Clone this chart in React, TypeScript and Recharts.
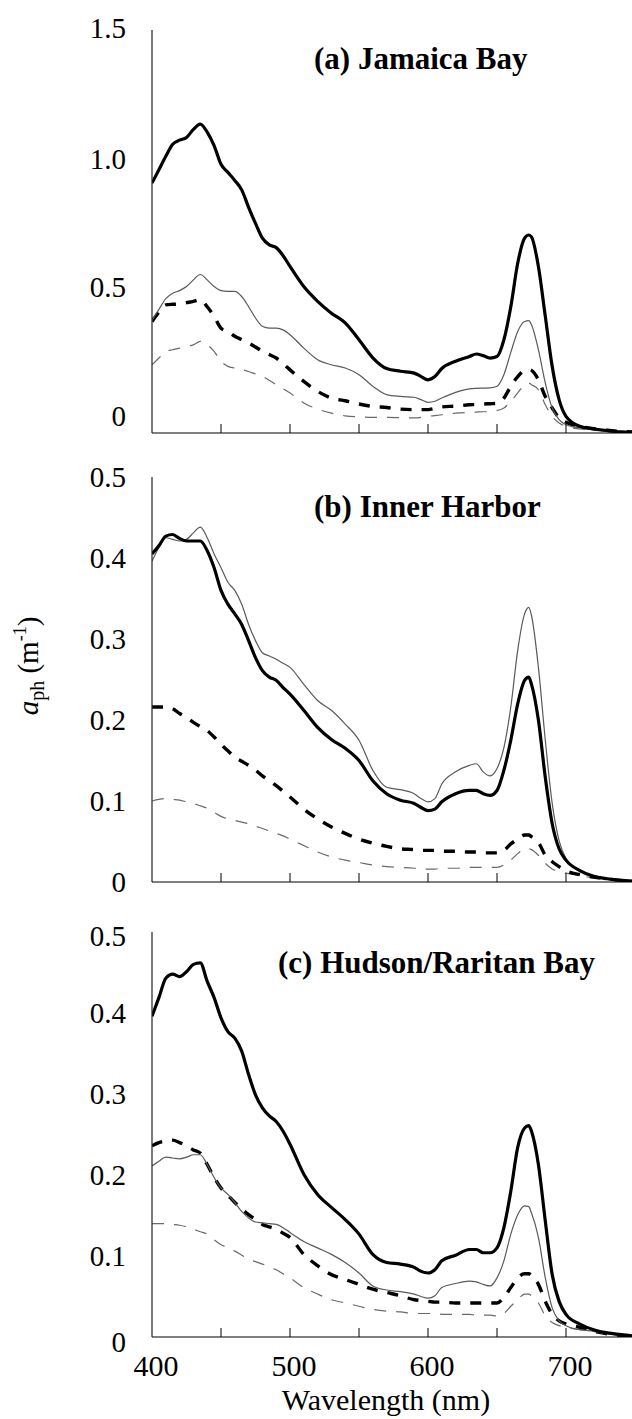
import React from 'react';
import { Line, LineChart, XAxis, YAxis } from 'recharts';

// wavelength grid shared by every spectrum (nm)
const wavelengths = [
  400, 405, 410, 415, 420, 425, 430, 435, 440, 445, 450, 455, 460, 465, 470, 475, 480, 485, 490, 495,
  500, 510, 520, 530, 540, 550, 560, 570, 580, 590, 595, 600, 605, 610, 620, 630, 635, 640, 645, 650,
  655, 660, 665, 670, 673, 675, 680, 685, 690, 695, 700, 710, 720, 730, 740, 750,
];

// (a) Jamaica Bay
const jamaicaBold = [
  0.93, 0.98, 1.03, 1.075, 1.09, 1.1, 1.13, 1.15, 1.12, 1.07, 1.0, 0.97, 0.94, 0.905, 0.84, 0.78, 0.725, 0.7, 0.69, 0.66,
  0.62, 0.545, 0.49, 0.446, 0.41, 0.347, 0.28, 0.24, 0.23, 0.223, 0.21, 0.198, 0.21, 0.24, 0.267, 0.285, 0.294, 0.288, 0.279, 0.285,
  0.347, 0.47, 0.632, 0.725, 0.737, 0.73, 0.62, 0.434, 0.248, 0.124, 0.062, 0.025, 0.015, 0.009, 0.004, 0.002,
];
const jamaicaThin = [
  0.42, 0.46, 0.5, 0.52, 0.53, 0.545, 0.57, 0.59, 0.57, 0.545, 0.53, 0.527, 0.527, 0.508, 0.47, 0.428, 0.397, 0.39, 0.39, 0.384,
  0.366, 0.316, 0.273, 0.254, 0.242, 0.217, 0.174, 0.143, 0.136, 0.133, 0.124, 0.114, 0.118, 0.13, 0.151, 0.164, 0.166, 0.167, 0.168, 0.174,
  0.217, 0.3, 0.378, 0.415, 0.418, 0.403, 0.31, 0.186, 0.093, 0.05, 0.031, 0.019, 0.012, 0.007, 0.004, 0.002,
];
const jamaicaBoldDash = [
  0.415, 0.45, 0.477, 0.479, 0.48, 0.485, 0.49, 0.496, 0.47, 0.434, 0.39, 0.378, 0.36, 0.348, 0.335, 0.32, 0.304, 0.292, 0.279, 0.258,
  0.235, 0.192, 0.155, 0.13, 0.12, 0.108, 0.099, 0.095, 0.089, 0.087, 0.087, 0.087, 0.092, 0.097, 0.1, 0.105, 0.106, 0.108, 0.109, 0.11,
  0.13, 0.174, 0.21, 0.233, 0.236, 0.233, 0.198, 0.136, 0.093, 0.056, 0.04, 0.025, 0.016, 0.01, 0.006, 0.003,
];
const jamaicaThinDash = [
  0.254, 0.279, 0.304, 0.31, 0.316, 0.322, 0.328, 0.341, 0.328, 0.304, 0.267, 0.248, 0.242, 0.236, 0.229, 0.22, 0.211, 0.196, 0.18, 0.165,
  0.149, 0.112, 0.089, 0.074, 0.064, 0.06, 0.058, 0.058, 0.057, 0.056, 0.058, 0.062, 0.065, 0.068, 0.074, 0.077, 0.078, 0.079, 0.081, 0.084,
  0.093, 0.118, 0.149, 0.18, 0.186, 0.18, 0.161, 0.105, 0.062, 0.037, 0.025, 0.015, 0.01, 0.006, 0.004, 0.002,
];

// (b) Inner Harbor
const harborBold = [
  0.405, 0.415, 0.427, 0.429, 0.424, 0.421, 0.421, 0.421, 0.409, 0.388, 0.36, 0.343, 0.331, 0.318, 0.298, 0.277, 0.261, 0.253, 0.249, 0.24,
  0.232, 0.212, 0.191, 0.176, 0.165, 0.15, 0.125, 0.109, 0.101, 0.097, 0.092, 0.088, 0.09, 0.099, 0.109, 0.113, 0.113, 0.109, 0.107, 0.113,
  0.138, 0.175, 0.22, 0.249, 0.253, 0.244, 0.2, 0.129, 0.072, 0.041, 0.027, 0.014, 0.007, 0.004, 0.002, 0.001,
];
const harborThin = [
  0.396, 0.413, 0.425, 0.423, 0.421, 0.423, 0.431, 0.438, 0.425, 0.405, 0.388, 0.37, 0.36, 0.343, 0.318, 0.298, 0.283, 0.279, 0.275, 0.27,
  0.265, 0.244, 0.224, 0.212, 0.195, 0.175, 0.138, 0.117, 0.114, 0.109, 0.103, 0.099, 0.103, 0.121, 0.136, 0.144, 0.146, 0.136, 0.131, 0.14,
  0.166, 0.216, 0.286, 0.331, 0.339, 0.329, 0.265, 0.175, 0.097, 0.051, 0.029, 0.014, 0.008, 0.004, 0.002, 0.001,
];
const harborBoldDash = [
  0.216, 0.216, 0.216, 0.214, 0.208, 0.203, 0.197, 0.192, 0.187, 0.179, 0.17, 0.162, 0.154, 0.149, 0.144, 0.138, 0.131, 0.125, 0.119, 0.112,
  0.105, 0.09, 0.078, 0.068, 0.06, 0.053, 0.048, 0.044, 0.041, 0.04, 0.039, 0.039, 0.039, 0.038, 0.038, 0.037, 0.037, 0.036, 0.036, 0.036,
  0.039, 0.047, 0.053, 0.058, 0.058, 0.056, 0.049, 0.033, 0.025, 0.019, 0.014, 0.009, 0.006, 0.004, 0.002, 0.001,
];
const harborThinDash = [
  0.1, 0.102, 0.103, 0.102, 0.101, 0.099, 0.097, 0.094, 0.091, 0.086, 0.081, 0.078, 0.076, 0.074, 0.072, 0.069, 0.066, 0.063, 0.06, 0.057,
  0.053, 0.045, 0.037, 0.031, 0.027, 0.024, 0.021, 0.019, 0.018, 0.017, 0.016, 0.016, 0.016, 0.017, 0.017, 0.018, 0.018, 0.018, 0.018, 0.018,
  0.021, 0.027, 0.035, 0.041, 0.041, 0.04, 0.033, 0.023, 0.016, 0.013, 0.011, 0.008, 0.005, 0.003, 0.002, 0.001,
];

// (c) Hudson/Raritan Bay
const hudsonBold = [
  0.396, 0.419, 0.443, 0.448, 0.445, 0.451, 0.46, 0.462, 0.439, 0.419, 0.394, 0.377, 0.369, 0.353, 0.324, 0.299, 0.283, 0.273, 0.266, 0.254,
  0.238, 0.201, 0.176, 0.16, 0.145, 0.127, 0.102, 0.092, 0.09, 0.086, 0.081, 0.079, 0.083, 0.094, 0.101, 0.108, 0.108, 0.104, 0.104, 0.11,
  0.135, 0.18, 0.234, 0.258, 0.261, 0.254, 0.213, 0.143, 0.077, 0.044, 0.028, 0.016, 0.009, 0.005, 0.003, 0.001,
];
const hudsonThin = [
  0.211, 0.217, 0.222, 0.221, 0.22, 0.222, 0.225, 0.225, 0.213, 0.197, 0.184, 0.176, 0.166, 0.155, 0.147, 0.142, 0.141, 0.14, 0.139, 0.135,
  0.129, 0.118, 0.11, 0.102, 0.092, 0.079, 0.063, 0.058, 0.056, 0.053, 0.05, 0.048, 0.051, 0.061, 0.066, 0.069, 0.068, 0.065, 0.063, 0.073,
  0.094, 0.127, 0.151, 0.162, 0.161, 0.153, 0.123, 0.073, 0.036, 0.02, 0.014, 0.009, 0.007, 0.004, 0.002, 0.001,
];
const hudsonBoldDash = [
  0.236, 0.24, 0.242, 0.243, 0.24, 0.236, 0.231, 0.227, 0.213, 0.197, 0.184, 0.175, 0.166, 0.158, 0.151, 0.145, 0.139, 0.136, 0.133, 0.128,
  0.123, 0.102, 0.088, 0.077, 0.071, 0.065, 0.059, 0.055, 0.051, 0.046, 0.045, 0.044, 0.043, 0.043, 0.042, 0.042, 0.042, 0.042, 0.042, 0.042,
  0.049, 0.061, 0.073, 0.078, 0.078, 0.076, 0.065, 0.044, 0.028, 0.02, 0.016, 0.012, 0.007, 0.004, 0.002, 0.001,
];
const hudsonThinDash = [
  0.14, 0.14, 0.14, 0.139, 0.138, 0.136, 0.133, 0.13, 0.127, 0.12, 0.114, 0.11, 0.106, 0.101, 0.096, 0.093, 0.09, 0.087, 0.083, 0.078,
  0.073, 0.061, 0.053, 0.046, 0.042, 0.038, 0.034, 0.032, 0.031, 0.029, 0.029, 0.029, 0.029, 0.028, 0.028, 0.028, 0.027, 0.027, 0.027, 0.026,
  0.029, 0.038, 0.046, 0.053, 0.053, 0.051, 0.042, 0.026, 0.018, 0.014, 0.012, 0.009, 0.007, 0.004, 0.002, 0.001,
];

const xTicks = [400, 450, 500, 550, 600, 650, 700, 750];
const xLabelTicks = [400, 500, 600, 700];
const yTicksA = [0, 0.5, 1.0, 1.5];
const yTicksBC = [0, 0.1, 0.2, 0.3, 0.4, 0.5];

const FONT = "'Liberation Serif', 'Times New Roman', Times, 'DejaVu Serif', serif";
const TICK_LEN = 9;

const buildRows = (bold: number[], thin: number[], boldDash: number[], thinDash: number[]) =>
  wavelengths.map((wl, i) => ({ wl, bold: bold[i], thin: thin[i], boldDash: boldDash[i], thinDash: thinDash[i] }));

const fmtY = (v: number) => (v === 0 ? '0' : v.toFixed(1));

type PanelProps = {
  top: number;
  height: number;
  plotTop: number;
  plotBottom: number;
  yMax: number;
  yTicks: number[];
  labelShift: number[];
  showXLabels: boolean;
  rows: ReturnType<typeof buildRows>;
};

const Panel = ({ top, height, plotTop, plotBottom, yMax, yTicks, labelShift, showXLabels, rows }: PanelProps) => {
  const marginTop = plotTop - top;
  const bottomSpace = top + height - plotBottom;

  const TopTick = ({ x, y, payload }: any) =>
    payload.value === 400 || payload.value === 750 ? <g /> : (
      <line x1={x} x2={x} y1={y} y2={y + TICK_LEN} stroke="#000" strokeWidth={1} />
    );

  const BottomTick = ({ x, y, payload }: any) => (
    <g>
      {payload.value !== 400 && payload.value !== 750 && (
        <line x1={x} x2={x} y1={y} y2={y - TICK_LEN} stroke="#000" strokeWidth={1} />
      )}
      {showXLabels && xLabelTicks.includes(payload.value) && (
        <text x={x + 4} y={y + 39} textAnchor="middle" fontSize={30} style={{ fontFamily: FONT }} fill="#000">
          {payload.value}
        </text>
      )}
    </g>
  );

  const LeftTick = ({ x, y, payload, index }: any) => (
    <text
      x={x - 26}
      y={y + (labelShift[index] || 0)}
      dy="0.34em"
      textAnchor="end"
      fontSize={29}
      style={{ fontFamily: FONT }}
      fill="#000"
    >
      {fmtY(payload.value)}
    </text>
  );

  const RightTick = ({ x, y, payload }: any) =>
    payload.value === 0 || payload.value === yMax ? <g /> : (
      <line x1={x} x2={x - TICK_LEN} y1={y} y2={y} stroke="#000" strokeWidth={1} />
    );

  return (
    <div style={{ position: 'absolute', left: 0, top }}>
      <LineChart width={640} height={height} data={rows} margin={{ top: marginTop, right: 5, bottom: 0, left: 0 }}>
        <XAxis
          xAxisId="bottom"
          dataKey="wl"
          type="number"
          domain={[400, 750]}
          ticks={xTicks}
          interval={0}
          height={bottomSpace}
          tickSize={0}
          tickMargin={0}
          tickLine={false}
          tick={<BottomTick />}
          axisLine={{ stroke: '#000', strokeWidth: 1.2 }}
          allowDataOverflow
        />
        <XAxis
          xAxisId="top"
          orientation="top"
          dataKey="wl"
          type="number"
          domain={[400, 750]}
          ticks={xTicks}
          interval={0}
          height={0}
          tickSize={0}
          tickMargin={0}
          tickLine={false}
          tick={<TopTick />}
          axisLine={{ stroke: '#000', strokeWidth: 1.2 }}
        />
        <YAxis
          yAxisId="left"
          type="number"
          domain={[0, yMax]}
          ticks={yTicks}
          interval={0}
          width={152}
          tickSize={0}
          tickMargin={0}
          tickLine={false}
          tick={<LeftTick />}
          axisLine={{ stroke: '#222', strokeWidth: 1.2 }}
          allowDataOverflow
        />
        <YAxis
          yAxisId="right"
          orientation="right"
          type="number"
          domain={[0, yMax]}
          ticks={yTicks}
          interval={0}
          width={0}
          tickSize={0}
          tickMargin={0}
          tickLine={false}
          tick={<RightTick />}
          axisLine={{ stroke: '#000', strokeWidth: 1.2 }}
        />
        <Line
          xAxisId="bottom"
          yAxisId="left"
          type="monotone"
          dataKey="thinDash"
          stroke="#6a6a6a"
          strokeWidth={1.2}
          strokeDasharray="12 10"
          dot={false}
          isAnimationActive={false}
        />
        <Line
          xAxisId="bottom"
          yAxisId="left"
          type="monotone"
          dataKey="boldDash"
          stroke="#000"
          strokeWidth={3.4}
          strokeDasharray="11 10"
          dot={false}
          isAnimationActive={false}
        />
        <Line
          xAxisId="bottom"
          yAxisId="left"
          type="monotone"
          dataKey="thin"
          stroke="#5a5a5a"
          strokeWidth={1.2}
          dot={false}
          isAnimationActive={false}
        />
        <Line
          xAxisId="bottom"
          yAxisId="left"
          type="monotone"
          dataKey="bold"
          stroke="#000"
          strokeWidth={3.2}
          dot={false}
          isAnimationActive={false}
        />
      </LineChart>
    </div>
  );
};

const App = () => {
  const rowsA = buildRows(jamaicaBold, jamaicaThin, jamaicaBoldDash, jamaicaThinDash);
  const rowsB = buildRows(harborBold, harborThin, harborBoldDash, harborThinDash);
  const rowsC = buildRows(hudsonBold, hudsonThin, hudsonBoldDash, hudsonThinDash);

  return (
    <div
      style={{
        position: 'absolute',
        left: 0,
        top: 0,
        width: 632,
        height: 1419,
        overflow: 'hidden',
        background: '#fff',
        fontFamily: FONT,
      }}
    >
      <Panel
        top={0}
        height={455}
        plotTop={30}
        plotBottom={433}
        yMax={1.5}
        yTicks={yTicksA}
        labelShift={[-17, -12, -5, -2]}
        showXLabels={false}
        rows={rowsA}
      />
      <Panel
        top={447}
        height={457}
        plotTop={477}
        plotBottom={882}
        yMax={0.5}
        yTicks={yTicksBC}
        labelShift={[0, 0, 0, 0, 0, 0]}
        showXLabels={false}
        rows={rowsB}
      />
      <Panel
        top={902}
        height={517}
        plotTop={932}
        plotBottom={1337}
        yMax={0.5}
        yTicks={yTicksBC}
        labelShift={[5, 0, 0, 0, 0, 4]}
        showXLabels
        rows={rowsC}
      />
      <svg width={632} height={1419} style={{ position: 'absolute', left: 0, top: 0, pointerEvents: 'none', fontFamily: FONT }}>
        <g fontWeight="bold" fontSize={31} fill="#000">
          <text x={314} y={69}>(a) Jamaica Bay</text>
          <text x={314} y={517}>(b) Inner Harbor</text>
          <text x={278} y={973}>(c) Hudson/Raritan Bay</text>
        </g>
        <text x={386} y={1410} textAnchor="middle" fontSize={30} fill="#000">
          Wavelength (nm)
        </text>
        <text x={0} y={0} transform="translate(38, 666) rotate(-90)" textAnchor="middle" fontSize={29} fill="#000">
          <tspan fontStyle="italic">a</tspan>
          <tspan fontSize={20} dy={6}>ph</tspan>
          <tspan dy={-6}> (m</tspan>
          <tspan fontSize={18} dy={-12}>-1</tspan>
          <tspan dy={12}>)</tspan>
        </text>
      </svg>
    </div>
  );
};

export default App;
